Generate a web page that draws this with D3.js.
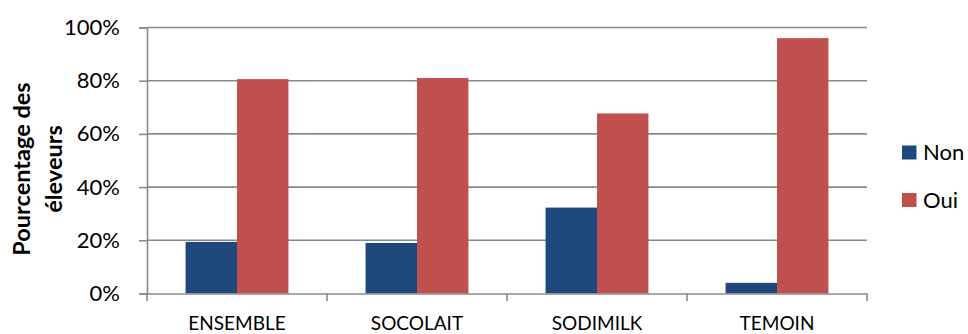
<!DOCTYPE html>
<html>
<head>
<meta charset="utf-8">
<script src="https://cdn.jsdelivr.net/npm/d3@7"></script>
<style>
  html, body { margin: 0; padding: 0; background: #fff; }
  svg text { font-family: Lato, "Open Sans", "Liberation Sans", sans-serif; fill: #000; }
</style>
</head>
<body>
<svg id="chart" width="968" height="334"></svg>
<script>
// Groupes d'éleveurs et réponses (en %)
const categories = ["ENSEMBLE", "SOCOLAIT", "SODIMILK", "TEMOIN"];
const seriesNames = ["Non", "Oui"];
const nonValues = [19.4, 19.0, 32.3, 4.0];
const ouiValues = [80.6, 81.0, 67.7, 96.0];
const yTicks = [0, 20, 40, 60, 80, 100];
const colors = ["#1F497D", "#C0504D"];

const series = [nonValues, ouiValues];

const svg = d3.select("#chart");
const margin = { left: 147, right: 101, top: 27.5, bottom: 40.5 };
const W = 968, H = 334;
const plotW = W - margin.left - margin.right;
const plotH = H - margin.top - margin.bottom;
const gridColor = "#8a8a8a";
const font = "Lato, 'Open Sans', sans-serif";

const g = svg.append("g").attr("transform", `translate(${margin.left},${margin.top})`);

const x = d3.scaleBand().domain(categories).range([0, plotW]).paddingInner(0).paddingOuter(0);
const x1 = d3.scaleBand().domain(seriesNames).range([0, x.bandwidth()]).paddingInner(0).paddingOuter(0.75);
const y = d3.scaleLinear().domain([0, 100]).range([plotH, 0]);

// Quadrillage horizontal
g.append("g")
  .selectAll("line")
  .data(yTicks.filter(t => t > 0))
  .join("line")
  .attr("x1", 0).attr("x2", plotW)
  .attr("y1", d => y(d)).attr("y2", d => y(d))
  .attr("stroke", gridColor).attr("stroke-width", 1.6);

// Barres
seriesNames.forEach((name, si) => {
  g.append("g")
    .selectAll("rect")
    .data(categories.map((c, i) => ({ c, v: series[si][i] })))
    .join("rect")
    .attr("x", d => x(d.c) + x1(name))
    .attr("y", d => y(d.v))
    .attr("width", x1.bandwidth())
    .attr("height", d => y(0) - y(d.v))
    .attr("fill", colors[si]);
});

// Axe vertical
const yAxis = g.append("g")
  .call(d3.axisLeft(y).tickValues(yTicks).tickFormat(d => d + "%").tickSize(8).tickPadding(19));
yAxis.select(".domain").attr("stroke", gridColor).attr("stroke-width", 1.6);
yAxis.selectAll(".tick line").attr("stroke", gridColor).attr("stroke-width", 1.6);
yAxis.selectAll(".tick text").attr("font-size", 22).attr("fill", "#000")
  .style("font-family", font);

// Axe horizontal
const xAxis = g.append("g").attr("transform", `translate(0,${plotH})`)
  .call(d3.axisBottom(x).tickSize(0));
xAxis.select(".domain").attr("stroke", gridColor).attr("stroke-width", 1.6);
xAxis.selectAll(".tick text")
  .attr("y", 36).attr("dy", 0)
  .attr("font-size", 19).attr("fill", "#000")
  .style("font-family", font);

// Graduations entre catégories
const bounds = categories.map(c => x(c)).concat([plotW]);
g.append("g").selectAll("line").data(bounds).join("line")
  .attr("x1", d => d).attr("x2", d => d)
  .attr("y1", plotH).attr("y2", plotH + 7.5)
  .attr("stroke", gridColor).attr("stroke-width", 1.6);

// Titre de l'axe vertical
const yTitle = svg.append("text")
  .attr("transform", "translate(30,169) rotate(-90)")
  .attr("text-anchor", "middle")
  .attr("font-size", 23.5).attr("font-weight", "bold");
yTitle.append("tspan").attr("x", 0).attr("dy", 0).text("Pourcentage des");
yTitle.append("tspan").attr("x", 0).attr("dy", 32).text("éleveurs");

// Légende
const legend = svg.append("g").attr("transform", "translate(902,145.5)");
seriesNames.forEach((name, i) => {
  const row = legend.append("g").attr("transform", `translate(0,${i * 47.5})`);
  row.append("rect").attr("width", 14.5).attr("height", 14).attr("fill", colors[i]);
  row.append("text").attr("x", 21).attr("y", 7).attr("dy", "0.36em")
    .attr("font-size", 22).text(name);
});
</script>
</body>
</html>
